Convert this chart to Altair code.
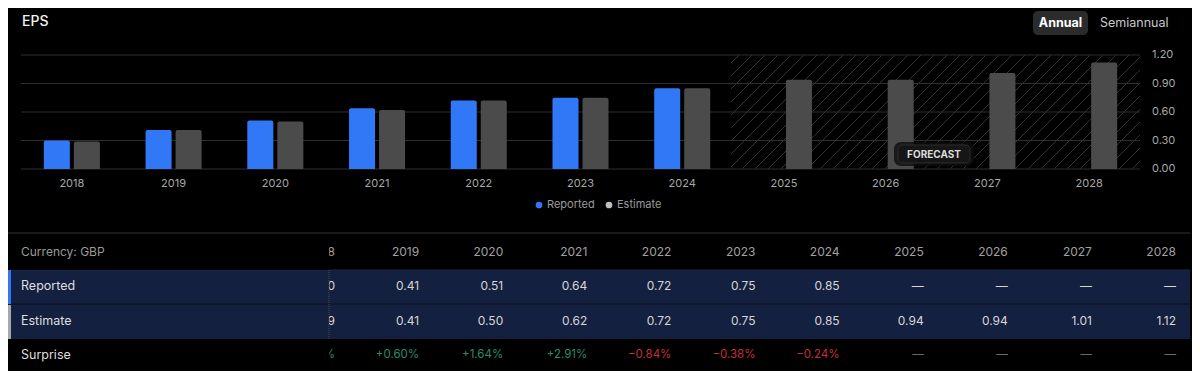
import altair as alt
import pandas as pd

# ---------------- data ----------------
years = ["2018", "2019", "2020", "2021", "2022", "2023", "2024", "2025", "2026", "2027", "2028"]
reported = [0.30, 0.41, 0.51, 0.64, 0.72, 0.75, 0.85, None, None, None, None]
estimate = [0.29, 0.41, 0.50, 0.62, 0.72, 0.75, 0.85, 0.94, 0.94, 1.01, 1.12]
surprise = [3.45, 0.60, 1.64, 2.91, -0.84, -0.38, -0.24, None, None, None, None]
series = ["Reported", "Estimate"]
series_colors = ["#3178f6", "#4b4b4b"]
y_ticks = [0.0, 0.3, 0.6, 0.9, 1.2]
forecast_years = ["2025", "2026", "2027", "2028"]

W, H = 1184, 363
FONT = "Inter"

bars_rows = []
for i, yr in enumerate(years):
    for s, vals in zip(series, [reported, estimate]):
        if vals[i] is not None:
            bars_rows.append({"Year": yr, "Series": s, "Value": vals[i]})
bars_df = pd.DataFrame(bars_rows)
ticks_df = pd.DataFrame({"tick": y_ticks})
years_df = pd.DataFrame({"Year": years})


def fmt_val(v):
    return "\u2014" if v is None else f"{v:.2f}"


def fmt_sur(v):
    if v is None:
        return "\u2014"
    return f"+{v:.2f}%" if v >= 0 else f"\u2212{abs(v):.2f}%"


def sign_of(v):
    if v is None:
        return "none"
    return "pos" if v >= 0 else "neg"


table_df = pd.DataFrame({
    "Year": years,
    "rep": [fmt_val(v) for v in reported],
    "est": [fmt_val(v) for v in estimate],
    "sur": [fmt_sur(v) for v in surprise],
    "sign": [sign_of(v) for v in surprise],
})

# ---------------- geometry ----------------
PX0, PX1 = 13, 1132        # plot area x
PY_TOP, PY_BOT = 47, 161   # plot area y
x_band = alt.Scale(domain=years, range=[PX0, PX1], paddingInner=0.449, paddingOuter=0.2245)
y_lin = alt.Scale(domain=[0, 1.2], range=[PY_BOT, PY_TOP], nice=False, zero=False)
x_tab = alt.Scale(type="point", domain=years, range=[327, 1168], padding=0)

one = pd.DataFrame({"a": [0]})


def txt(text, x, y, size=12, color="#dddddd", align="left", weight="normal", baseline="middle"):
    return alt.Chart(one).mark_text(
        text=text, align=align, baseline=baseline, fontSize=size, color=color,
        font=FONT, fontWeight=weight
    ).encode(x=alt.value(x), y=alt.value(y))


def box(x, x2, y, y2, fill, radius=0, stroke=None, opacity=1.0):
    kw = dict(fill=fill, cornerRadius=radius, opacity=opacity)
    if stroke:
        kw["stroke"] = stroke
        kw["strokeWidth"] = 1
    return alt.Chart(one).mark_rect(**kw).encode(
        x=alt.value(x), x2=alt.value(x2), y=alt.value(y), y2=alt.value(y2))


def hline(x, x2, y, color, width=1, dash=None):
    kw = dict(color=color, strokeWidth=width)
    if dash:
        kw["strokeDash"] = dash
    return alt.Chart(one).mark_rule(**kw).encode(
        x=alt.value(x), x2=alt.value(x2), y=alt.value(y))


def vline(x, y, y2, color, width=1, dash=None):
    kw = dict(color=color, strokeWidth=width)
    if dash:
        kw["strokeDash"] = dash
    return alt.Chart(one).mark_rule(**kw).encode(
        x=alt.value(x), y=alt.value(y), y2=alt.value(y2))


layers = []

# title + toggle buttons
layers.append(txt("EPS", 14, 14, size=14, color="#f2f2f2", weight=500))
layers.append(box(1025, 1080, 3, 27, "#2b2b2b", radius=5))
layers.append(txt("Annual", 1052.5, 15, size=12.5, color="#ffffff", align="center", weight="bold"))
layers.append(txt("Semiannual", 1092, 15, size=12.5, color="#c8c8c8"))

# forecast hatching (decoration, pixel space)
HX0 = 723
hatch = []
span = PY_BOT - PY_TOP
b = HX0 - span + 8
while b < PX1:
    x1, y1 = b, PY_BOT
    x2, y2 = b + span, PY_TOP
    if x1 < HX0:
        y1 = PY_BOT - (HX0 - x1)
        x1 = HX0
    if x2 > PX1:
        y2 = PY_TOP + (x2 - PX1)
        x2 = PX1
    if x2 > x1:
        hatch.append({"hx": x1, "hx2": x2, "hy": y1, "hy2": y2})
    b += 13
hatch_df = pd.DataFrame(hatch)
px_x = alt.Scale(domain=[0, W], range=[0, W], zero=False, nice=False)
px_y = alt.Scale(domain=[0, H], range=[0, H], zero=False, nice=False)
layers.append(
    alt.Chart(hatch_df).mark_rule(color="#333333", strokeWidth=1).encode(
        x=alt.X("hx:Q", scale=px_x, axis=None), x2="hx2:Q",
        y=alt.Y("hy:Q", scale=px_y, axis=None), y2="hy2:Q")
)

# gridlines
layers.append(
    alt.Chart(ticks_df).mark_rule(color="#2f2f2f", strokeWidth=1).encode(
        y=alt.Y("tick:Q", scale=y_lin, axis=None),
        x=alt.value(PX0), x2=alt.value(PX1))
)

# bars
layers.append(
    alt.Chart(bars_df).mark_bar(cornerRadiusTopLeft=2, cornerRadiusTopRight=2).encode(
        x=alt.X("Year:N", scale=x_band, axis=None),
        xOffset=alt.XOffset("Series:N", scale=alt.Scale(domain=series, paddingInner=0.1333, paddingOuter=0)),
        y=alt.Y("Value:Q", scale=y_lin, axis=None),
        y2=alt.datum(0),
        color=alt.Color("Series:N", scale=alt.Scale(domain=series, range=series_colors), legend=None),
    )
)

# y-axis labels (right)
layers.append(
    alt.Chart(ticks_df).mark_text(align="left", baseline="middle", fontSize=11, color="#a8a8a8", font=FONT).encode(
        y=alt.Y("tick:Q", scale=y_lin, axis=None),
        x=alt.value(1144),
        text=alt.Text("tick:Q", format=".2f"))
)

# x-axis labels
layers.append(
    alt.Chart(years_df).mark_text(align="center", baseline="middle", fontSize=11, color="#a8a8a8", font=FONT).encode(
        x=alt.X("Year:N", scale=x_band, axis=None),
        y=alt.value(176),
        text="Year:N")
)

# FORECAST badge
layers.append(box(886, 966, 134, 158, "#0d0d0d", radius=7, opacity=0.8))
layers.append(box(890, 962, 137, 155, "#161616", radius=4, stroke="#2c2c2c"))
layers.append(txt("FORECAST", 926, 146.5, size=10, color="#dcdcdc", align="center", weight="bold"))

# legend
leg_x = [531, 601]
for s, c, lx in zip(series, series_colors if False else ["#3178f6", "#c0c0c0"], leg_x):
    layers.append(alt.Chart(one).mark_point(filled=True, size=45, color=c, opacity=1).encode(
        x=alt.value(lx), y=alt.value(197)))
    layers.append(txt(s, lx + 8, 197, size=11, color="#9a9a9a"))

# separator
layers.append(hline(0, 1182, 225, "#333333"))

# table row backgrounds
ROW_BG = "#14203f"
layers.append(box(0, 1182, 262, 296, ROW_BG))
layers.append(box(0, 1182, 296, 331, ROW_BG))
layers.append(hline(0, 1182, 262, "#1c2846"))
layers.append(hline(0, 1182, 296, "#0a1020"))

# table values
Y_HEAD, Y_REP, Y_EST, Y_SUR = 244, 278, 313, 347
layers.append(
    alt.Chart(table_df).mark_text(align="right", baseline="middle", fontSize=12, color="#a0a0a0", font=FONT).encode(
        x=alt.X("Year:N", scale=x_tab, axis=None), y=alt.value(Y_HEAD), text="Year:N")
)
for fld, yy in [("rep", Y_REP), ("est", Y_EST)]:
    layers.append(
        alt.Chart(table_df).mark_text(align="right", baseline="middle", fontSize=12, color="#d6d6d6", font=FONT).encode(
            x=alt.X("Year:N", scale=x_tab, axis=None), y=alt.value(yy), text=f"{fld}:N")
    )
layers.append(
    alt.Chart(table_df).mark_text(align="right", baseline="middle", fontSize=11.5, font=FONT).encode(
        x=alt.X("Year:N", scale=x_tab, axis=None), y=alt.value(Y_SUR), text="sur:N",
        color=alt.Color("sign:N", scale=alt.Scale(domain=["pos", "neg", "none"],
                                                  range=["#2b8c6c", "#c4303b", "#6a6a6a"]), legend=None))
)

# sticky first column (covers the scrolled-away part)
STICK = 321
layers.append(box(0, STICK, 226, 262, "#000000"))
layers.append(box(0, STICK, 263, 296, ROW_BG))
layers.append(box(0, STICK, 297, 331, ROW_BG))
layers.append(box(0, STICK, 331, 363, "#000000"))
layers.append(hline(0, STICK, 296, "#0a1020"))
layers.append(vline(STICK, 262, 331, "#4a4a4a", dash=[1, 1]))
layers.append(box(0, 3, 262, 296, "#3178f6"))
layers.append(box(0, 3, 297, 331, "#a8a8a8"))

layers.append(txt("Currency: GBP", 13, Y_HEAD, size=12, color="#9a9a9a"))
layers.append(txt("Reported", 13, Y_REP, size=12.5, color="#dedede"))
layers.append(txt("Estimate", 13, Y_EST, size=12.5, color="#dedede"))
layers.append(txt("Surprise", 13, Y_SUR, size=12.5, color="#dedede"))

chart = alt.layer(*layers).resolve_scale(
    x="independent", y="independent", color="independent"
).properties(
    width=W, height=H, padding=0, background="#000000",
    autosize=alt.AutoSizeParams(type="none"),
).configure_view(stroke=None)

chart.save("out.html", embed_options={"renderer": "svg", "actions": False})
